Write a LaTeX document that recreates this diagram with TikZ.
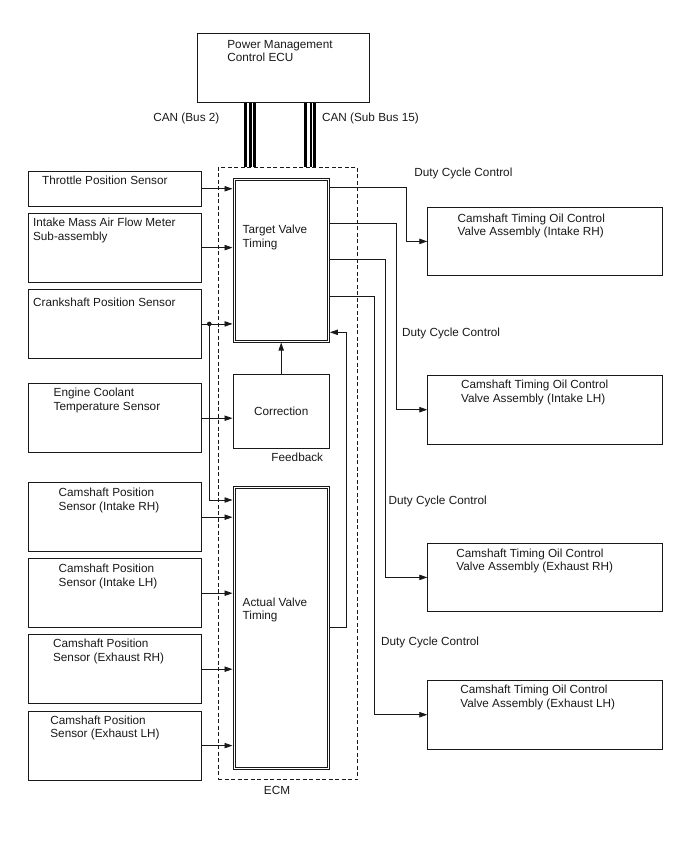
\documentclass[tikz,border=0pt]{standalone}
\usepackage{fontspec}
\setmainfont{Liberation Sans}
\usetikzlibrary{arrows.meta}

\begin{document}
\begin{tikzpicture}[x=1bp, y=-1bp, line width=0.8bp, color=black!90,
    >={Triangle[length=8bp, width=5.4bp]},
    every node/.style={font=\fontsize{11.8}{13.4}\selectfont, inner sep=0pt},
    box/.style={draw, anchor=north west},
    sensor/.style={box, minimum width=173.3bp, minimum height=69bp},
    ocv/.style={box, minimum width=235bp, minimum height=68.6bp},
    blockbox/.style={box, minimum width=96.6bp},
    txt/.style={anchor=north west, align=left},
    canline/.style={line width=2.5bp, color=black}]
      \useasboundingbox (0,0) rectangle (688,852);
      \node[box, minimum width=172bp, minimum height=69bp] (pm) at (197,33) {};
      \node[txt] (pmt) at (227,39.7) {Power Management\\Control ECU};
      \node[txt] (canb) at (153,112.7) {CAN (Bus 2)};
      \node[txt] (cansb) at (321.7,112.7) {CAN (Sub Bus 15)};
      \node[box, dash pattern=on 4bp off 2.5bp, minimum width=139.5bp,
        minimum height=612.3bp] (ecm) at (217.7,167) {};
      \node (ecmt) at (277,790) {ECM};
      \coordinate (cb1) at (245.5,0);
      \coordinate (cb2) at (250.7,0);
      \coordinate (cb3) at (254.7,0);
      \coordinate (cs1) at (305.3,0);
      \coordinate (cs2) at (310.8,0);
      \coordinate (cs3) at (314.7,0);
      \draw[canline] (pm.south -| cb1) to (ecm.north -| cb1);
      \draw[canline] (pm.south -| cb2) to (ecm.north -| cb2);
      \draw[canline] (pm.south -| cb3) to (ecm.north -| cb3);
      \draw[canline] (pm.south -| cs1) to (ecm.north -| cs1);
      \draw[canline] (pm.south -| cs2) to (ecm.north -| cs2);
      \draw[canline] (pm.south -| cs3) to (ecm.north -| cs3);
      \node[blockbox, minimum height=164.3bp] (tvt) at (232.5,177.5) {};
      \draw ([shift={(2.7,2.7)}]tvt.north west) rectangle ([shift={(-2.7,-2.7)}]tvt.south east);
      \node[txt] (tvtt) at (242.3,225) {Target Valve\\Timing};
      \node[box, minimum width=96.6bp, minimum height=73.4bp] (corr) at (232.5,374.3) {Correction};
      \node (fbt) at (297.3,457.7) {Feedback};
      \node[blockbox, minimum height=283.2bp] (avt) at (232.5,485.9) {};
      \draw ([shift={(2.7,2.7)}]avt.north west) rectangle ([shift={(-2.7,-2.7)}]avt.south east);
      \node[txt] (avtt) at (242.3,597.4) {Actual Valve\\Timing};
      \node[sensor, minimum height=34.7bp] (thr) at (27.7,171) {};
      \node[txt] (thrt) at (41.7,175.7) {Throttle Position Sensor};
      \node[sensor] (maf) at (27.7,212.7) {};
      \node[txt] (maft) at (32.7,218) {Intake Mass Air Flow Meter\\Sub-assembly};
      \node[sensor] (crk) at (27.7,289) {};
      \node[txt] (crkt) at (32.7,297.4) {Crankshaft Position Sensor};
      \node[sensor] (ect) at (27.7,383.3) {};
      \node[txt] (ectt) at (53.3,388) {Engine Coolant\\Temperature Sensor};
      \node[sensor] (cirh) at (27.7,482.3) {};
      \node[txt] (cirht) at (58.3,488) {Camshaft Position\\Sensor (Intake RH)};
      \node[sensor] (cilh) at (27.7,558.3) {};
      \node[txt] (cilht) at (58.3,564) {Camshaft Position\\Sensor (Intake LH)};
      \node[sensor] (cerh) at (27.7,634.3) {};
      \node[txt] (cerht) at (52.7,639) {Camshaft Position\\Sensor (Exhaust RH)};
      \node[sensor] (celh) at (27.7,710.7) {};
      \node[txt] (celht) at (50,715.7) {Camshaft Position\\Sensor (Exhaust LH)};
      \node[ocv] (oirh) at (427.3,206.7) {};
      \node[txt] (oirht) at (457.3,213.4) {Camshaft Timing Oil Control\\Valve Assembly (Intake RH)};
      \node[ocv] (oilh) at (427.3,375) {};
      \node[txt] (oilht) at (460.7,380) {Camshaft Timing Oil Control\\Valve Assembly (Intake LH)};
      \node[ocv] (oerh) at (427.3,542.7) {};
      \node[txt] (oerht) at (456,548.4) {Camshaft Timing Oil Control\\Valve Assembly (Exhaust RH)};
      \node[ocv] (oelh) at (427.3,680) {};
      \node[txt] (oelht) at (460,685) {Camshaft Timing Oil Control\\Valve Assembly (Exhaust LH)};
      \node[txt] (dc1) at (414,168) {Duty Cycle Control};
      \node[txt] (dc2) at (401.7,328) {Duty Cycle Control};
      \node[txt] (dc3) at (388.3,495.7) {Duty Cycle Control};
      \node[txt] (dc4) at (380.7,636.7) {Duty Cycle Control};
      \draw[->] (thr) to (thr -| tvt.west);
      \draw[->] (maf) to (maf -| tvt.west);
      \draw[->] (crk) to (crk -| tvt.west);
      \coordinate (crkdn) at (209.3,500);
      \fill (crk -| crkdn) circle (2.3bp);
      \draw[->] (crk -| crkdn) |- (crkdn -| avt.west);
      \draw[->] (ect) to (ect -| corr.west);
      \draw[->] (cirh) to (cirh -| avt.west);
      \draw[->] (cilh) to (cilh -| avt.west);
      \draw[->] (cerh) to (cerh -| avt.west);
      \draw[->] (celh) to (celh -| avt.west);
      \draw[->] (corr) to (tvt);
      \coordinate (fbup) at (346,332.3);
      \coordinate (fbdn) at (346,627.3);
      \draw[->] (fbdn -| avt.east) -- (fbdn) -- (fbup) -- (fbup -| tvt.east);
      \coordinate (dcx1) at (406.7,187.3);
      \coordinate (dcx2) at (396,223.3);
      \coordinate (dcx3) at (385,259.3);
      \coordinate (dcx4) at (374.3,296);
      \draw[->] (dcx1 -| tvt.east) -- (dcx1) |- (oirh);
      \draw[->] (dcx2 -| tvt.east) -- (dcx2) |- (oilh);
      \draw[->] (dcx3 -| tvt.east) -- (dcx3) |- (oerh);
      \draw[->] (dcx4 -| tvt.east) -- (dcx4) |- (oelh);
    \end{tikzpicture}
\end{document}
